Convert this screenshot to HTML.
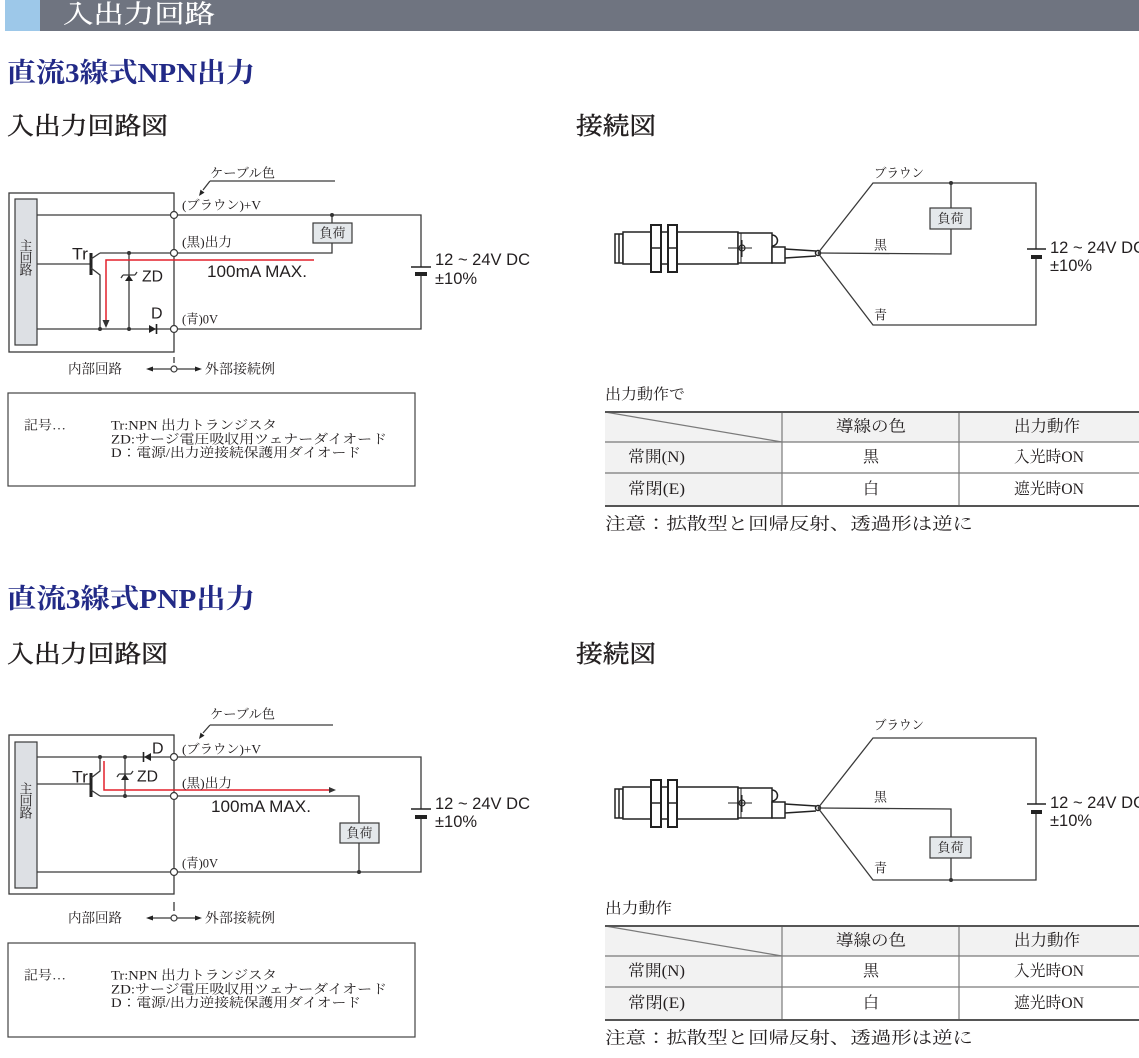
<!DOCTYPE html>
<html lang="ja"><head><meta charset="utf-8">
<style>
html,body{margin:0;padding:0;background:#fff;width:1139px;height:1058px;overflow:hidden}
svg{display:block}
text{dominant-baseline:central}
.m{font-family:"Liberation Serif","Noto Serif CJK SC",serif;fill:#231f20}
.s{font-family:"Liberation Sans",sans-serif;fill:#231f20}
.hd{stroke:#231f20;stroke-width:0.45}
.ln{stroke:#3a3a3a;stroke-width:1.3;fill:none}
.th{stroke:#7a7a7a;stroke-width:1.2;fill:none}
.tk{stroke:#555;stroke-width:2;fill:none}
.red{stroke:#e3202c;stroke-width:1.5;fill:none}
.dot{fill:#333}
.term{fill:#fff;stroke:#3a3a3a;stroke-width:1.2}
.load{fill:#e4e8eb;stroke:#3a3a3a;stroke-width:1.2}
.sn{fill:#fff;stroke:#222;stroke-width:1.5}
</style></head><body>
<svg width="1139" height="1058" viewBox="0 0 1139 1058" xmlns="http://www.w3.org/2000/svg">
<!-- Header bar -->
<rect x="40" y="0" width="1099" height="31" fill="#6f7480"/>
<rect x="5" y="0" width="35" height="31" fill="#9dc8e9"/>
<text x="63" y="15" class="m" font-size="25" style="fill:#fff;stroke:#fff;stroke-width:0.3" textLength="152" lengthAdjust="spacingAndGlyphs">入出力回路</text>

<!-- ============ NPN section ============ -->
<text x="7" y="73" class="m" font-size="27" font-weight="bold" style="fill:#222a87" textLength="248" lengthAdjust="spacingAndGlyphs">直流3線式NPN出力</text>
<text x="7" y="127" class="m hd" font-size="24" textLength="161" lengthAdjust="spacingAndGlyphs">入出力回路図</text>
<text x="576" y="127" class="m hd" font-size="24" textLength="80" lengthAdjust="spacingAndGlyphs">接続図</text>

<!-- NPN circuit -->
<rect x="9" y="193" width="165" height="159" class="ln"/>
<rect x="15" y="199" width="22" height="146" fill="#dde0e4" stroke="#3a3a3a" stroke-width="1.2"/>
<text x="26" y="246" class="m" font-size="13" text-anchor="middle">主</text>
<text x="26" y="258" class="m" font-size="13" text-anchor="middle">回</text>
<text x="26" y="270" class="m" font-size="13" text-anchor="middle">路</text>

<path class="ln" d="M37,215 H421 V267 M421,276 V329 H37"/>
<path class="ln" d="M100,253 H332 V243 M332,223 V215"/>
<path class="ln" d="M37,264 H91"/>
<line x1="91" y1="253" x2="91" y2="275" stroke="#222" stroke-width="3"/>
<path class="ln" d="M91,259 L100,253 M91,268 L100,275 V329"/>
<path class="ln" d="M129,253 V329"/>
<!-- zener -->
<path class="ln" d="M123,275 H135 M123,275 L121,278 M135,275 L137,272"/>
<polygon points="129,275 125,281 133,281" fill="#222"/>
<!-- diode -->
<polygon points="149,325 149,333 156,329" fill="#222"/>
<line x1="156.5" y1="324" x2="156.5" y2="334" stroke="#222" stroke-width="1.6"/>
<!-- red current path -->
<path class="red" d="M314,260 H106 V321"/>
<polygon points="102.5,320 109.5,320 106,328" fill="#333"/>
<circle cx="100" cy="329" r="2" class="dot"/>
<circle cx="129" cy="253" r="2" class="dot"/>
<circle cx="129" cy="329" r="2" class="dot"/>
<circle cx="332" cy="215" r="2" class="dot"/>
<circle cx="174" cy="215" r="3.5" class="term"/>
<circle cx="174" cy="253" r="3.5" class="term"/>
<circle cx="174" cy="329" r="3.5" class="term"/>
<rect x="313" y="223" width="39" height="20" class="load"/>
<text x="332.5" y="233" class="m" font-size="13" text-anchor="middle">負荷</text>
<line x1="411" y1="267" x2="431" y2="267" stroke="#222" stroke-width="1.6"/>
<rect x="415" y="272" width="12" height="4" fill="#222"/>

<text x="72" y="254" class="s" font-size="17" textLength="16" lengthAdjust="spacingAndGlyphs">Tr</text>
<text x="142" y="277" class="s" font-size="16" textLength="21" lengthAdjust="spacingAndGlyphs">ZD</text>
<text x="151" y="314" class="s" font-size="16">D</text>
<text x="207" y="272" class="s" font-size="16.5" textLength="100" lengthAdjust="spacingAndGlyphs">100mA MAX.</text>
<text x="435" y="260" class="s" font-size="16.5" textLength="95" lengthAdjust="spacingAndGlyphs">12 ~ 24V DC</text>
<text x="435" y="279" class="s" font-size="16.5">±10%</text>

<text x="182" y="205" class="m" font-size="13" textLength="79" lengthAdjust="spacingAndGlyphs">(ブラウン)+V</text>
<text x="182" y="242" class="m" font-size="13" textLength="50" lengthAdjust="spacingAndGlyphs">(黒)出力</text>
<text x="182" y="319" class="m" font-size="13" textLength="36" lengthAdjust="spacingAndGlyphs">(青)0V</text>
<text x="210" y="173" class="m" font-size="13" textLength="65" lengthAdjust="spacingAndGlyphs">ケーブル色</text>
<path class="ln" d="M210,181 H335 M210,181 L203,190"/>
<polygon points="199,196 204.5,192.6 200.5,189.6" fill="#222"/>

<line x1="174" y1="357" x2="174" y2="363" class="ln"/>
<path class="ln" d="M151,369 H171 M177,369 H197"/>
<polygon points="146,369 153,366.5 153,371.5" fill="#222"/>
<polygon points="202,369 195,366.5 195,371.5" fill="#222"/>
<circle cx="174" cy="369" r="3" class="term"/>
<text x="68" y="369" class="m" font-size="13.5" textLength="54" lengthAdjust="spacingAndGlyphs">内部回路</text>
<text x="205" y="369" class="m" font-size="13.5" textLength="70" lengthAdjust="spacingAndGlyphs">外部接続例</text>

<!-- NPN note box -->
<rect x="8" y="393" width="407" height="93" fill="none" stroke="#444" stroke-width="1.2"/>
<text x="24" y="425" class="m" font-size="13" textLength="42" lengthAdjust="spacingAndGlyphs">記号…</text>
<text x="111" y="425" class="m" font-size="13" textLength="166" lengthAdjust="spacingAndGlyphs">Tr:NPN 出力トランジスタ</text>
<text x="111" y="439" class="m" font-size="13" textLength="276" lengthAdjust="spacingAndGlyphs">ZD:サージ電圧吸収用ツェナーダイオード</text>
<text x="111" y="452.5" class="m" font-size="13" textLength="250" lengthAdjust="spacingAndGlyphs">D：電源/出力逆接続保護用ダイオード</text>

<!-- NPN connection diagram -->
<g class="sn">
<rect x="615" y="234" width="8" height="29"/>
<line x1="619" y1="234" x2="619" y2="263"/>
<rect x="623" y="232" width="115" height="32"/>
<rect x="651" y="225" width="10" height="47" stroke-width="2"/>
<line x1="651" y1="248" x2="661" y2="248"/>
<rect x="668" y="225" width="9" height="47" stroke-width="2"/>
<line x1="668" y1="248" x2="677" y2="248"/>
<rect x="738" y="233" width="34" height="30"/>
<line x1="741" y1="233" x2="741" y2="263" stroke-width="1"/>
<path d="M772,235 a5.5,5.5 0 0 1 0,11" fill="none"/>
<rect x="772" y="247" width="13" height="16"/>
<path d="M785,249 L816,251 M785,258 L816,256" fill="none"/>
<circle cx="818" cy="253" r="2.5"/>
<path d="M728,248 H752 M742,240 V257" fill="none" stroke-width="1"/>
<circle cx="742" cy="248" r="3" fill="none" stroke-width="1.2"/>
</g>
<path class="ln" d="M818,253 L873,183 H1036 V249 M1036,259 V325 H873 L818,253"/>
<path class="ln" d="M818,253 L951,254 V229 M951,208 V183"/>
<circle cx="951" cy="183" r="2" class="dot"/>
<rect x="930" y="208" width="41" height="21" class="load"/>
<text x="950.5" y="218.5" class="m" font-size="13" text-anchor="middle">負荷</text>
<line x1="1027" y1="249" x2="1046" y2="249" stroke="#222" stroke-width="1.6"/>
<rect x="1031" y="255" width="11" height="4" fill="#222"/>
<text x="874" y="173" class="m" font-size="13" textLength="50" lengthAdjust="spacingAndGlyphs">ブラウン</text>
<text x="874" y="245" class="m" font-size="13">黒</text>
<text x="874" y="315" class="m" font-size="13">青</text>
<text x="1050" y="248" class="s" font-size="16.5" textLength="95" lengthAdjust="spacingAndGlyphs">12 ~ 24V DC</text>
<text x="1050" y="266" class="s" font-size="16.5">±10%</text>

<!-- NPN table -->
<text x="605" y="395" class="m" font-size="15" textLength="80" lengthAdjust="spacingAndGlyphs">出力動作で</text>
<rect x="605" y="412" width="534" height="30" fill="#f2f2f2"/>
<rect x="605" y="442" width="177" height="64" fill="#f2f2f2"/>
<path class="th" d="M605,442 H1139 M605,473 H1139 M782,412 V506 M959,412 V506"/>
<path class="th" d="M605,412 L782,442" stroke-width="1"/>
<path class="tk" d="M605,412 H1139 M605,506 H1139"/>
<text x="871" y="427" class="m" font-size="16" text-anchor="middle" textLength="70" lengthAdjust="spacingAndGlyphs">導線の色</text>
<text x="1047" y="427" class="m" font-size="16" text-anchor="middle" textLength="66" lengthAdjust="spacingAndGlyphs">出力動作</text>
<text x="628" y="457.5" class="m" font-size="16" textLength="57" lengthAdjust="spacingAndGlyphs">常開(N)</text>
<text x="871" y="457.5" class="m" font-size="16" text-anchor="middle">黒</text>
<text x="1049" y="457.5" class="m" font-size="16" text-anchor="middle" textLength="70" lengthAdjust="spacingAndGlyphs">入光時ON</text>
<text x="628" y="489.5" class="m" font-size="16" textLength="57" lengthAdjust="spacingAndGlyphs">常閉(E)</text>
<text x="871" y="489.5" class="m" font-size="16" text-anchor="middle">白</text>
<text x="1049" y="489.5" class="m" font-size="16" text-anchor="middle" textLength="70" lengthAdjust="spacingAndGlyphs">遮光時ON</text>
<text x="605" y="524" class="m" font-size="17" textLength="368" lengthAdjust="spacingAndGlyphs">注意：拡散型と回帰反射、透過形は逆に</text>

<!-- ============ PNP section ============ -->
<text x="7" y="599" class="m" font-size="27" font-weight="bold" style="fill:#222a87" textLength="248" lengthAdjust="spacingAndGlyphs">直流3線式PNP出力</text>
<text x="7" y="655" class="m hd" font-size="24" textLength="161" lengthAdjust="spacingAndGlyphs">入出力回路図</text>
<text x="576" y="655" class="m hd" font-size="24" textLength="80" lengthAdjust="spacingAndGlyphs">接続図</text>

<!-- PNP circuit -->
<rect x="9" y="735" width="165" height="159" class="ln"/>
<rect x="15" y="742" width="22" height="146" fill="#dde0e4" stroke="#3a3a3a" stroke-width="1.2"/>
<text x="26" y="789" class="m" font-size="13" text-anchor="middle">主</text>
<text x="26" y="801" class="m" font-size="13" text-anchor="middle">回</text>
<text x="26" y="813" class="m" font-size="13" text-anchor="middle">路</text>

<path class="ln" d="M37,757 H421 V809 M421,819 V872 H37"/>
<path class="ln" d="M100,796 H359 V823 M359,843 V872"/>
<path class="ln" d="M37,784 H91"/>
<line x1="91" y1="773" x2="91" y2="797" stroke="#222" stroke-width="3"/>
<path class="ln" d="M100,757 V771 L91,778 M91,790 L100,796"/>
<path class="ln" d="M125,757 V796"/>
<path class="ln" d="M119,774 H131 M119,774 L117,777 M131,774 L133,771"/>
<polygon points="125,774 121,780 129,780" fill="#222"/>
<line x1="143.5" y1="752" x2="143.5" y2="762" stroke="#222" stroke-width="1.6"/>
<polygon points="144,757 151,753 151,761" fill="#222"/>
<path class="red" d="M104,761 V790 H329"/>
<polygon points="329,787 329,793 336,790" fill="#333"/>
<circle cx="100" cy="757" r="2" class="dot"/>
<circle cx="125" cy="757" r="2" class="dot"/>
<circle cx="125" cy="796" r="2" class="dot"/>
<circle cx="359" cy="872" r="2" class="dot"/>
<circle cx="174" cy="757" r="3.5" class="term"/>
<circle cx="174" cy="796" r="3.5" class="term"/>
<circle cx="174" cy="872" r="3.5" class="term"/>
<rect x="340" y="823" width="39" height="20" class="load"/>
<text x="359.5" y="833" class="m" font-size="13" text-anchor="middle">負荷</text>
<line x1="411" y1="809" x2="431" y2="809" stroke="#222" stroke-width="1.6"/>
<rect x="415" y="815" width="12" height="4" fill="#222"/>

<text x="72" y="777" class="s" font-size="17" textLength="16" lengthAdjust="spacingAndGlyphs">Tr</text>
<text x="137" y="777" class="s" font-size="16" textLength="21" lengthAdjust="spacingAndGlyphs">ZD</text>
<text x="152" y="749" class="s" font-size="16">D</text>
<text x="211" y="807" class="s" font-size="16.5" textLength="100" lengthAdjust="spacingAndGlyphs">100mA MAX.</text>
<text x="435" y="804" class="s" font-size="16.5" textLength="95" lengthAdjust="spacingAndGlyphs">12 ~ 24V DC</text>
<text x="435" y="822" class="s" font-size="16.5">±10%</text>

<text x="182" y="749" class="m" font-size="13" textLength="79" lengthAdjust="spacingAndGlyphs">(ブラウン)+V</text>
<text x="182" y="783" class="m" font-size="13" textLength="50" lengthAdjust="spacingAndGlyphs">(黒)出力</text>
<text x="182" y="863" class="m" font-size="13" textLength="36" lengthAdjust="spacingAndGlyphs">(青)0V</text>
<text x="210" y="714" class="m" font-size="13" textLength="65" lengthAdjust="spacingAndGlyphs">ケーブル色</text>
<path class="ln" d="M210,725 H333 M210,725 L203,733"/>
<polygon points="199,739 204.5,735.6 200.5,732.6" fill="#222"/>

<line x1="174" y1="902" x2="174" y2="911" class="ln"/>
<path class="ln" d="M151,918 H171 M177,918 H197"/>
<polygon points="146,918 153,915.5 153,920.5" fill="#222"/>
<polygon points="202,918 195,915.5 195,920.5" fill="#222"/>
<circle cx="174" cy="918" r="3" class="term"/>
<text x="68" y="918" class="m" font-size="13.5" textLength="54" lengthAdjust="spacingAndGlyphs">内部回路</text>
<text x="205" y="918" class="m" font-size="13.5" textLength="70" lengthAdjust="spacingAndGlyphs">外部接続例</text>

<!-- PNP note box -->
<rect x="8" y="943" width="407" height="94" fill="none" stroke="#444" stroke-width="1.2"/>
<text x="24" y="975" class="m" font-size="13" textLength="42" lengthAdjust="spacingAndGlyphs">記号…</text>
<text x="111" y="975" class="m" font-size="13" textLength="166" lengthAdjust="spacingAndGlyphs">Tr:NPN 出力トランジスタ</text>
<text x="111" y="989" class="m" font-size="13" textLength="276" lengthAdjust="spacingAndGlyphs">ZD:サージ電圧吸収用ツェナーダイオード</text>
<text x="111" y="1002.5" class="m" font-size="13" textLength="250" lengthAdjust="spacingAndGlyphs">D：電源/出力逆接続保護用ダイオード</text>

<!-- PNP connection diagram -->
<g class="sn" transform="translate(0,555)">
<rect x="615" y="234" width="8" height="29"/>
<line x1="619" y1="234" x2="619" y2="263"/>
<rect x="623" y="232" width="115" height="32"/>
<rect x="651" y="225" width="10" height="47" stroke-width="2"/>
<line x1="651" y1="248" x2="661" y2="248"/>
<rect x="668" y="225" width="9" height="47" stroke-width="2"/>
<line x1="668" y1="248" x2="677" y2="248"/>
<rect x="738" y="233" width="34" height="30"/>
<line x1="741" y1="233" x2="741" y2="263" stroke-width="1"/>
<path d="M772,235 a5.5,5.5 0 0 1 0,11" fill="none"/>
<rect x="772" y="247" width="13" height="16"/>
<path d="M785,249 L816,251 M785,258 L816,256" fill="none"/>
<circle cx="818" cy="253" r="2.5"/>
<path d="M728,248 H752 M742,240 V257" fill="none" stroke-width="1"/>
<circle cx="742" cy="248" r="3" fill="none" stroke-width="1.2"/>
</g>
<path class="ln" d="M818,808 L873,738 H1036 V804 M1036,814 V880 H873 L818,808"/>
<path class="ln" d="M818,808 L951,809 V837 M951,858 V880"/>
<circle cx="951" cy="880" r="2" class="dot"/>
<rect x="930" y="837" width="41" height="21" class="load"/>
<text x="950.5" y="847.5" class="m" font-size="13" text-anchor="middle">負荷</text>
<line x1="1027" y1="804" x2="1046" y2="804" stroke="#222" stroke-width="1.6"/>
<rect x="1031" y="810" width="11" height="4" fill="#222"/>
<text x="874" y="725" class="m" font-size="13" textLength="50" lengthAdjust="spacingAndGlyphs">ブラウン</text>
<text x="874" y="797" class="m" font-size="13">黒</text>
<text x="874" y="868" class="m" font-size="13">青</text>
<text x="1050" y="803" class="s" font-size="16.5" textLength="95" lengthAdjust="spacingAndGlyphs">12 ~ 24V DC</text>
<text x="1050" y="821" class="s" font-size="16.5">±10%</text>

<!-- PNP table -->
<text x="605" y="909" class="m" font-size="15" textLength="67" lengthAdjust="spacingAndGlyphs">出力動作</text>
<rect x="605" y="926" width="534" height="30" fill="#f2f2f2"/>
<rect x="605" y="956" width="177" height="64" fill="#f2f2f2"/>
<path class="th" d="M605,956 H1139 M605,987 H1139 M782,926 V1020 M959,926 V1020"/>
<path class="th" d="M605,926 L782,956" stroke-width="1"/>
<path class="tk" d="M605,926 H1139 M605,1020 H1139"/>
<text x="871" y="941" class="m" font-size="16" text-anchor="middle" textLength="70" lengthAdjust="spacingAndGlyphs">導線の色</text>
<text x="1047" y="941" class="m" font-size="16" text-anchor="middle" textLength="66" lengthAdjust="spacingAndGlyphs">出力動作</text>
<text x="628" y="971.5" class="m" font-size="16" textLength="57" lengthAdjust="spacingAndGlyphs">常開(N)</text>
<text x="871" y="971.5" class="m" font-size="16" text-anchor="middle">黒</text>
<text x="1049" y="971.5" class="m" font-size="16" text-anchor="middle" textLength="70" lengthAdjust="spacingAndGlyphs">入光時ON</text>
<text x="628" y="1003.5" class="m" font-size="16" textLength="57" lengthAdjust="spacingAndGlyphs">常閉(E)</text>
<text x="871" y="1003.5" class="m" font-size="16" text-anchor="middle">白</text>
<text x="1049" y="1003.5" class="m" font-size="16" text-anchor="middle" textLength="70" lengthAdjust="spacingAndGlyphs">遮光時ON</text>
<text x="605" y="1038" class="m" font-size="17" textLength="368" lengthAdjust="spacingAndGlyphs">注意：拡散型と回帰反射、透過形は逆に</text>
</svg>
</body></html>
